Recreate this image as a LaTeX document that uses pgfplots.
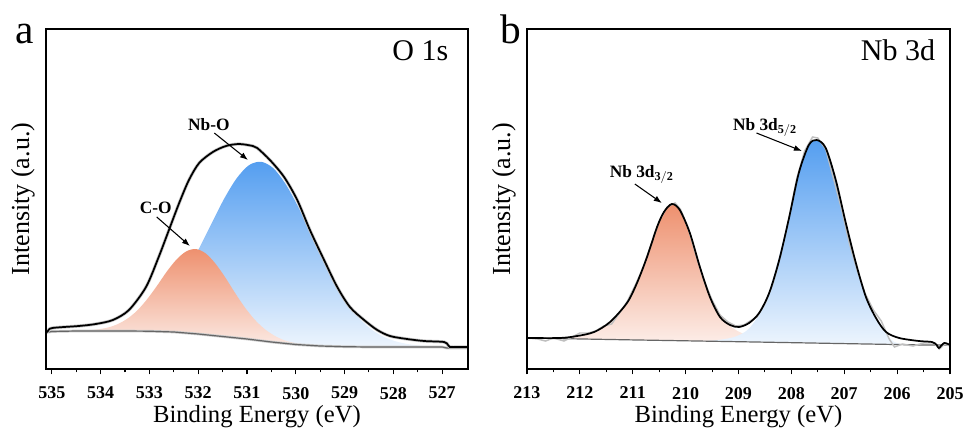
\documentclass[border=0pt]{standalone}
\usepackage{fontspec}
\setmainfont{Liberation Serif}
\usepackage{pgfplots}
\pgfplotsset{compat=1.18}
\usepackage{pgfplotstable}
\usetikzlibrary{arrows.meta}

\definecolor{bluetop}{RGB}{84,158,240}
\definecolor{orgtop}{RGB}{238,144,110}

% panel a: O 1s  (binding energy, intensity a.u.)
\pgfplotstableread{
x y
535.12 36
535.08 38
534.99 41
534.45 43
534.10 45
533.75 49
533.42 59
533.07 82
532.81 112
532.60 139
532.39 166
532.19 189
531.98 206
531.70 217
531.43 223
531.16 225
530.88 223
530.79 221
530.53 209
530.24 192
529.97 169
529.71 139
529.42 109
529.15 82
528.89 62
528.60 49
528.33 39
528.07 33
527.72 30
527.37 28
526.96 27
526.88 24
526.84 22
526.69 22
526.49 22
}\enva
\pgfplotstableread{
x y
535.12 36.5
535.00 37.5
534.50 38
533.50 38
533.00 37.8
532.50 37
532.00 35
531.50 32.5
531.00 30
530.50 27
530.00 24.5
529.50 23
529.00 22.3
528.50 22
527.00 22
526.90 21
526.49 21
}\basea
\pgfplotstableread{
x y
534.85 37.6
534.65 37.9
534.45 38.3
534.25 38.7
534.05 39.7
533.85 41.5
533.65 44.9
533.45 50.4
533.25 58.5
533.05 69.6
532.85 82.8
532.65 97.0
532.45 109.2
532.25 117.5
532.05 120
531.85 115.7
531.65 105.6
531.45 91.9
531.25 76.5
531.05 62.0
530.85 49.8
530.65 40.4
530.45 33.7
530.25 29.0
530.05 26.4
529.85 24.7
529.65 23.5
}\coa
\pgfplotstableread{
x y
534.50 38.1
534.21 38.7
533.96 39.5
533.71 41
533.46 43.8
533.21 48.4
532.96 55.7
532.71 66.5
532.46 81.2
532.21 100.2
531.96 122.7
531.71 147.1
531.46 171
531.21 190.8
530.96 203.8
530.71 207.2
530.46 200.8
530.21 185.1
529.96 163.1
529.71 137.3
529.46 111.1
529.21 87.1
528.96 66.9
528.71 51.3
528.46 40
528.21 32.5
527.96 27.8
527.71 25
527.46 23.5
527.21 22.7
526.96 22.3
}\nboa

% panel b: Nb 3d
\pgfplotstableread{
x y
213.00 31
212.38 31
212.05 33
211.73 37
211.43 47
211.11 66
210.92 86
210.73 112
210.54 142
210.41 157
210.26 165
210.11 159
209.92 136
209.73 102
209.54 72
209.35 52
209.16 44
208.99 42
208.80 46
208.61 56
208.42 76
208.23 109
208.04 152
207.86 196
207.67 224
207.52 229
207.35 221
207.16 189
206.97 146
206.78 106
206.59 72
206.40 51
206.21 37
205.96 31
205.59 28
205.34 27
205.25 24
205.21 21
205.11 26
205.00 24
}\envb
\pgfplotstableread{
x y
213.0 31
212.8 30
212.65 28
212.5 31
212.3 28
212.15 32
212.0 36
211.85 36
211.7 38
211.55 43
211.4 45
211.25 56
211.1 68
210.95 84
210.8 102
210.65 125
210.5 148
210.35 162
210.2 166
210.1 160
209.95 141
209.8 113
209.65 88
209.5 69
209.35 54
209.2 47
209.05 43
208.9 44
208.75 49
208.65 52
208.5 65
208.35 85
208.2 114
208.05 150
207.9 190
207.75 218
207.6 232
207.5 231
207.35 220
207.2 190
207.05 160
206.9 125
206.75 98
206.6 75
206.45 59
206.3 48
206.15 30
206.05 22
205.9 25
205.7 23
205.5 26
205.3 26
205.2 20
205.1 25
205.0 23
}\rawb
\pgfplotstableread{
x y
213.0 31
211.0 29.1
209.0 27.3
207.0 25.4
205.5 24
205.0 24
}\baseb
\pgfplotstableread{
x y
213.00 31
212.70 31.2
212.38 31.5
212.05 33
211.73 37
211.43 47
211.11 66
210.92 86
210.73 112
210.54 142
210.41 157
210.26 165
210.11 158
209.98 142
209.79 112
209.60 82
209.41 60
209.20 45
209.00 37.5
208.80 33.5
208.50 30.5
208.20 28.5
207.80 27
207.20 25.6
}\orgb
\pgfplotstableread{
x y
209.80 28.1
209.45 28.6
209.08 32
208.83 39
208.64 52
208.45 73
208.26 107
208.07 147
207.88 190
207.69 222
207.52 229
207.35 221
207.16 189
206.97 146
206.78 106
206.59 72
206.40 51
206.21 35
206.05 27
205.85 24.2
}\blueb

\pgfplotsset{
  xpsstyle/.style={
    anchor=south west, width=316.5pt, height=255pt, scale only axis,
    axis on top,
    x dir=reverse, ymin=0, ymax=340, ytick=\empty,
    xtick pos=bottom, tick align=outside, minor x tick num=1,
    major tick length=4pt, minor tick length=2.5pt,
    every tick/.style={black, line width=0.8pt},
    axis line style={line width=0.9pt},
    xticklabel style={font=\fontsize{13.5}{14}\selectfont\bfseries, yshift=-6pt},
    /pgf/number format/1000 sep={},
    /pgf/number format/assume math mode=true,
    xlabel={Binding Energy (eV)},
    xlabel style={at={(axis description cs:0.5,-0.157)}, anchor=base, font=\fontsize{18.5}{20}\selectfont},
    ylabel={Intensity (a.u.)},
    ylabel style={at={(axis description cs:-0.04,0.5)}, anchor=base, font=\fontsize{19.5}{21}\selectfont},
  },
}
\tikzset{
  note/.style={font=\fontsize{13}{14}\selectfont\bfseries},
  arr/.style={-{Latex[length=6pt,width=4.5pt]}, line width=0.8pt},
}

\begin{document}
\begin{tikzpicture}
\begin{axis}[xpsstyle, at={(34.5pt,45.75pt)}, xmin=526.47, xmax=535.12, xtick={527,528,...,535}]
  % peak components, shaded, then masked below the background line
  \addplot[draw=none, smooth, top color=bluetop, bottom color=white] table {\nboa} \closedcycle;
  \addplot[draw=none, smooth, top color=orgtop, bottom color=white] table {\coa} \closedcycle;
  \addplot[draw=none, fill=white] table {\basea} \closedcycle;
  \addplot[gray!40, line width=2pt] table {\basea};
  \addplot[black!60, line width=0.9pt] table {\basea};
  \addplot[gray!45, line width=2.4pt, smooth] table {\enva};
  \addplot[black, line width=1.3pt, smooth] table {\enva};
  \node[anchor=base east, font=\fontsize{22.5}{24}\selectfont] at (axis description cs:0.9645,0.906) {O 1s};
  \node[note] at (axis cs:531.78,244) {Nb-O};
  \draw[arr] (axis cs:531.67,236) -- (axis cs:530.98,209);
  \node[note] at (axis cs:532.87,161.5) {C-O};
  \draw[arr] (axis cs:532.85,152) -- (axis cs:532.17,123);
\end{axis}
\begin{axis}[xpsstyle, at={(395.25pt,45.75pt)}, width=317.25pt, xmin=205, xmax=213, xtick={205,206,...,213}]
  \addplot[draw=none, smooth, top color=orgtop, bottom color=white] table {\orgb} \closedcycle;
  \addplot[draw=none, smooth, top color=bluetop, bottom color=white] table {\blueb} \closedcycle;
  \addplot[draw=none, fill=white] table {\baseb} \closedcycle;
  \addplot[black!60, line width=0.9pt] table {\baseb};
  \addplot[gray!50, line width=1.1pt] table {\rawb};
  \addplot[black, line width=1.3pt, smooth] table {\envb};
  \node[anchor=base east, font=\fontsize{22.5}{24}\selectfont] at (axis description cs:0.976,0.906) {Nb 3d};
  \node[note, anchor=base] at (axis cs:208.50,239) {Nb 3d$_{\mathbf{5/2}}$};
  \draw[arr] (axis cs:208.66,236) -- (axis cs:207.80,218);
  \node[note, anchor=base] at (axis cs:210.83,192) {Nb 3d$_{\mathbf{3/2}}$};
  \draw[arr] (axis cs:210.96,185) -- (axis cs:210.45,166);
\end{axis}
\node[anchor=base west, inner sep=0, font=\fontsize{31}{32}\selectfont] at (11.25pt,290.25pt) {a};
\node[anchor=base west, inner sep=0, font=\fontsize{31}{32}\selectfont] at (375pt,290.25pt) {b};
\pgfresetboundingbox
\path (0,0) rectangle (723.75pt,322.5pt);
\end{tikzpicture}
\end{document}
